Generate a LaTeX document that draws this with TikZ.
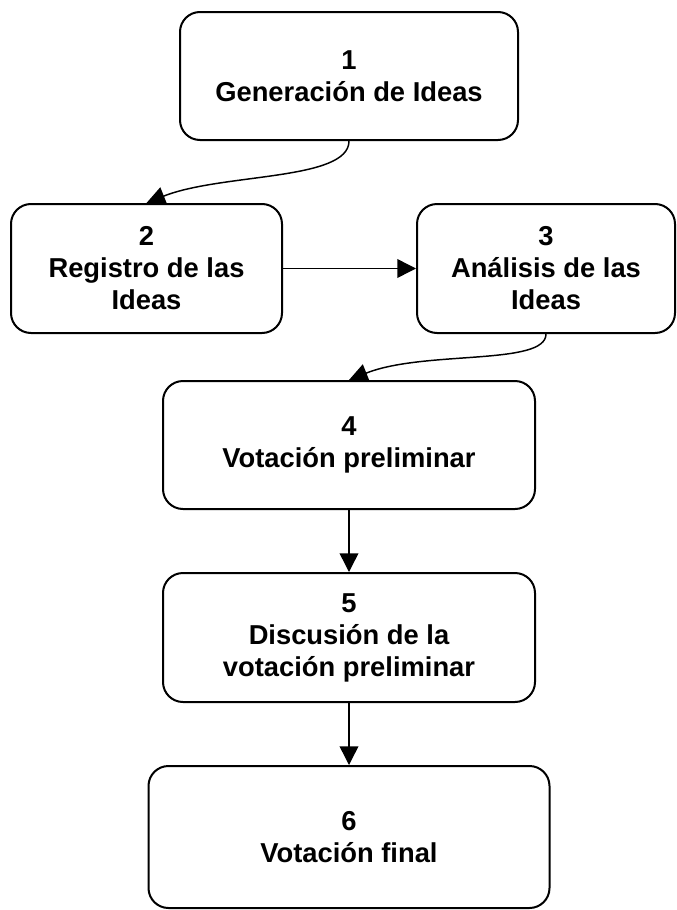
\documentclass[tikz,border=0pt]{standalone}
\usepackage{fontspec}
\setmainfont{Liberation Sans}
\usetikzlibrary{arrows.meta}

\begin{document}
\begin{tikzpicture}[x=0.75pt,y=0.75pt,yscale=-1,xscale=1,
	paso/.style={draw, line width=1.5pt, rounded corners=15pt, align=center, inner sep=0pt, font=\fontsize{20.5}{24}\selectfont\bfseries},
	flecha/.style={line width=1.1pt, -{Triangle[length=14pt,width=14pt]}}]
			\useasboundingbox (0,0) rectangle (676,910);

			%Shape: Rounded Rect [id:paso1]
			\node [paso, minimum width=253.5pt, minimum height=96pt] (paso1) at (349,76) {1\\Generación de Ideas};
			%Shape: Rounded Rect [id:paso2]
			\node [paso, minimum width=203.25pt, minimum height=96.75pt] (paso2) at (146.5,268.5) {2\\Registro de las\\Ideas};
			%Shape: Rounded Rect [id:paso3]
			\node [paso, minimum width=193.5pt, minimum height=96.75pt] (paso3) at (546,268.5) {3\\Análisis de las\\Ideas};
			%Shape: Rounded Rect [id:paso4]
			\node [paso, minimum width=279pt, minimum height=96pt] (paso4) at (349,445) {4\\Votación preliminar};
			%Shape: Rounded Rect [id:paso5]
			\node [paso, minimum width=279pt, minimum height=96.75pt] (paso5) at (349,637.5) {5\\Discusión de la\\votación preliminar};
			%Shape: Rounded Rect [id:paso6]
			\node [paso, minimum width=300.75pt, minimum height=106.5pt] (paso6) at (349,837) {6\\Votación final};

			%Curve Lines [id:flecha12]
			\draw [flecha] (paso1.south) .. controls +(0,40) and +(75,-30) .. (paso2.north);
			%Straight Lines [id:flecha23]
			\draw [flecha] (paso2.east) -- (paso3.west);
			%Curve Lines [id:flecha34]
			\draw [flecha] (paso3.south) .. controls +(0,32) and +(75,-30) .. (paso4.north);
			%Straight Lines [id:flecha45]
			\draw [flecha] (paso4.south) -- (paso5.north);
			%Straight Lines [id:flecha56]
			\draw [flecha] (paso5.south) -- (paso6.north);

		\end{tikzpicture}
\end{document}
